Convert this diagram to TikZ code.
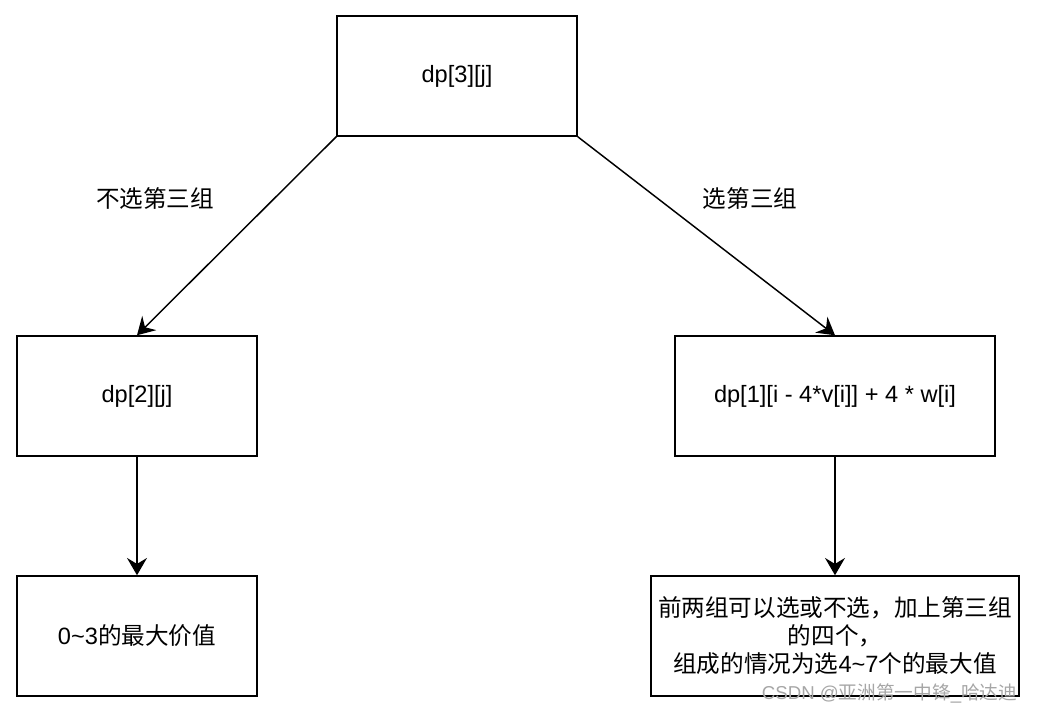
\documentclass[tikz,border=0pt]{standalone}
\usepackage{fontspec}
\setmainfont{Liberation Sans}
\newfontfamily\cjk{Noto Sans CJK SC}
\usetikzlibrary{arrows.meta}

\tikzset{
	box/.style={draw, line width=1.1pt, minimum width=180pt, minimum height=90pt,
		align=center, font=\fontsize{17.7}{21}\selectfont},
	lbl/.style={font=\fontsize{17.7}{21}\selectfont},
	wire/.style={line width=1.1pt, -{Stealth[length=13pt, width=15pt, inset=4.5pt]}}
}

\begin{document}
\begin{tikzpicture}[x=0.75pt, y=-0.75pt]
	% Frame:
	\useasboundingbox (0,0) rectangle (1039,714);
	% Boxes:
	\node[box] (dp3) at (457,76) {dp[3][j]};
	\node[box] (dp2) at (137,396) {dp[2][j]};
	\node[box, minimum width=240pt] (dp1) at (835,396)
		{dp[1][i - 4*v[i]] + 4 * w[i]};
	\node[box] (best3) at (137,636) {0\textasciitilde3{\cjk 的最大价值}};
	\node[box, minimum width=276pt, inner sep=1pt] (best7) at (835,636)
		{{\cjk 前两组可以选或不选，加上第三组}\\{\cjk 的四个，}\\
		{\cjk 组成的情况为选}4\textasciitilde7{\cjk 个的最大值}};
	% Labels:
	\node[lbl] (skip) at (155,198) {\cjk 不选第三组};
	\node[lbl] (take) at (750,198) {\cjk 选第三组};
	% Wires:
	\draw[wire] (dp3.south west) -- (dp2.north);
	\draw[wire] (dp3.south east) -- (dp1.north);
	\draw[wire] (dp2.south) -- (best3.north);
	\draw[wire] (dp1.south) -- (best7.north);
	% Watermark:
	\node[font=\fontsize{14}{16}\selectfont, text=gray!70, anchor=east]
		(mark) at (1022,693) {CSDN @{\cjk 亚洲第一中锋}\_{\cjk 哈达迪}};
\end{tikzpicture}
\end{document}
